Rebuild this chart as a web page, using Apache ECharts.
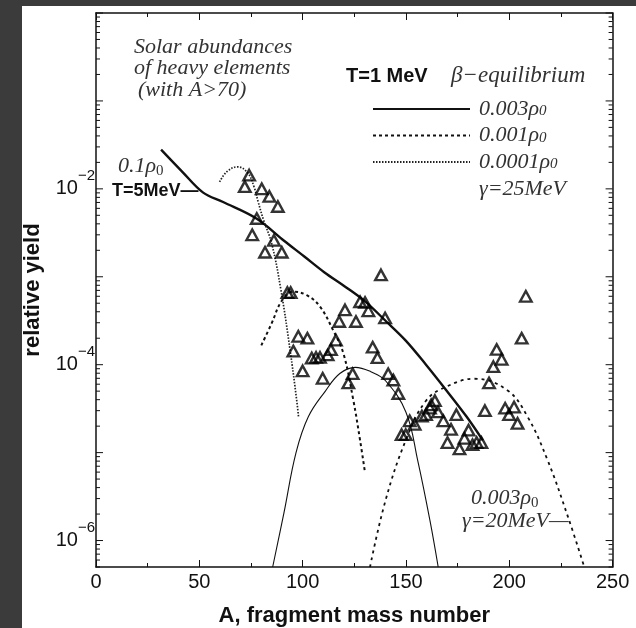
<!DOCTYPE html>
<html>
<head>
<meta charset="utf-8">
<script src="https://cdn.jsdelivr.net/npm/echarts@6/dist/echarts.min.js"></script>
<style>
  html, body { margin: 0; padding: 0; background: #3b3b3b; }
  #paper { position: absolute; left: 22px; top: 6px; width: 614px; height: 622px; background: #ffffff; }
  #chart { position: absolute; left: 0; top: 0; width: 636px; height: 628px; }
</style>
</head>
<body>
<div id="paper"></div>
<div id="chart"></div>
<script>
// Axis ranges
const X_MIN = 0, X_MAX = 250, X_STEP = 50;
const Y_MIN = 5e-7, Y_MAX = 1;
const yLabelExps = [-2, -4, -6];

// Measured solar abundances of heavy elements (A > 70): mass number and relative yield
const massA = [
  74.1, 72.0, 80.2, 83.9, 88.0, 77.8, 75.6, 86.1, 81.8, 89.9, 92.6, 94.2,
  127.8, 130.2, 131.8, 139.9, 137.9, 120.5, 117.7, 125.8, 97.9, 102.3, 116.1, 113.7,
  95.5, 133.9, 136.2, 104.4, 106.5, 108.4, 112.1, 100.0, 109.7, 124.2, 122.1, 141.4,
  143.9, 146.3,
  208.0, 206.0, 193.9, 196.3, 192.3, 190.2, 188.2, 198.0, 202.3, 199.9, 204.0,
  147.9, 149.9, 151.8, 154.2, 157.7, 159.7, 161.6, 162.2, 164.0, 165.5, 168.1, 174.4,
  171.8, 170.1, 175.9, 178.3, 180.3, 182.2, 184.2, 186.5
];
const relYield = [
  0.0143, 0.0106, 0.0100, 0.0082, 0.0063, 0.0046, 0.0030, 0.0026, 0.0019, 0.0019, 6.6e-4, 6.6e-4,
  5.2e-4, 5.1e-4, 4.1e-4, 3.4e-4, 1.05e-3, 4.2e-4, 3.1e-4, 3.1e-4, 2.1e-4, 2.0e-4, 1.9e-4, 1.48e-4,
  1.43e-4, 1.58e-4, 1.2e-4, 1.19e-4, 1.21e-4, 1.21e-4, 1.29e-4, 8.5e-5, 7.0e-5, 7.9e-5, 6.2e-5, 7.9e-5,
  6.7e-5, 4.7e-5,
  6.0e-4, 2.0e-4, 1.49e-4, 1.15e-4, 9.5e-5, 6.2e-5, 3.0e-5, 3.2e-5, 3.3e-5, 2.7e-5, 2.15e-5,
  1.6e-5, 1.6e-5, 2.3e-5, 2.1e-5, 2.6e-5, 2.7e-5, 3.2e-5, 3.5e-5, 3.9e-5, 2.9e-5, 2.3e-5, 2.7e-5,
  1.84e-5, 1.3e-5, 1.1e-5, 1.45e-5, 1.8e-5, 1.23e-5, 1.3e-5, 1.3e-5
];

// 0.1 rho0, T = 5 MeV
const hotA = [31.5, 41.9, 51.7, 61.5, 77.8, 91.0, 100.8, 110.6, 120.4, 130.2, 140.1, 149.9, 159.7, 169.5, 179.3, 187.2];
const hotY = [0.0279, 0.0155, 0.00912, 0.00708, 0.00457, 0.00257, 0.00170, 0.00112, 7.76e-4, 5.25e-4, 3.16e-4, 1.88e-4, 1.0e-4, 5.13e-5, 2.57e-5, 1.38e-5];

// T = 1 MeV, beta-equilibrium, gamma = 25 MeV
const rho003A = [85.5, 91.0, 96.8, 102.8, 111.0, 118.0, 125.5, 133.0, 140.0, 150.0, 155.7, 161.6, 165.6];
const rho003Y = [5e-7, 2.09e-6, 1.0e-5, 2.57e-5, 5.01e-5, 7.94e-5, 9.33e-5, 8.32e-5, 6.61e-5, 2.88e-5, 8.13e-6, 1.70e-6, 5e-7];

const rho001A = [80.0, 85.0, 90.0, 95.5, 102.0, 108.4, 114.8, 119.7, 124.5, 127.8, 130.2];
const rho001Y = [1.66e-4, 2.95e-4, 5.37e-4, 6.76e-4, 6.17e-4, 4.57e-4, 2.45e-4, 1.35e-4, 3.98e-5, 1.38e-5, 5.89e-6];

const rho0001A = [59.8, 63.5, 68.5, 73.5, 76.5, 78.5, 81.0, 85.0, 89.5, 93.9, 97.1, 98.0];
const rho0001Y = [0.0120, 0.0158, 0.0178, 0.0151, 0.0105, 0.00708, 0.00447, 0.00240, 7.08e-4, 1.48e-4, 3.98e-5, 2.57e-5];

// 0.003 rho0, gamma = 20 MeV
const g20A = [132.6, 140.1, 149.9, 159.7, 169.5, 183.2, 199.0, 208.8, 218.6, 228.4, 236.3];
const g20Y = [5e-7, 2.85e-6, 1.38e-5, 3.89e-5, 5.62e-5, 6.92e-5, 5.13e-5, 2.57e-5, 8.13e-6, 1.86e-6, 5e-7];

const INK = '#111111';
const SOFT = '#333333';
const SANS = '"Liberation Sans", Arial, sans-serif';
const SERIF = '"Liberation Serif", "Times New Roman", serif';

const zip = (xs, ys) => xs.map((x, i) => [x, ys[i]]);

// decade and sub-decade tick positions on the log axis
const yTicks = [];
for (let e = -7; e <= 0; e++) {
  for (let k = 1; k <= 9; k++) {
    const v = k * Math.pow(10, e);
    if (v >= Y_MIN && v <= Y_MAX) yTicks.push([X_MIN, v, k === 1 ? 1 : 0]);
  }
}

const lineBase = {
  type: 'line', showSymbol: false, symbol: 'none', smooth: 0.4, silent: true, z: 3,
  itemStyle: { color: INK }
};

const serifSub = { fontFamily: SERIF, fontSize: 15, fill: SOFT, verticalAlign: 'bottom', padding: [10, 0, 0, 0] };

const option = {
  animation: false,
  backgroundColor: 'transparent',
  grid: { left: 96, right: 23.4, top: 13, bottom: 61, outerBoundsMode: 'none' },
  xAxis: [
    {
      type: 'value', min: X_MIN, max: X_MAX, interval: X_STEP, position: 'bottom',
      axisLine: { show: true, onZero: false, lineStyle: { color: INK, width: 1.5 } },
      axisTick: { show: true, inside: true, length: 7, lineStyle: { color: INK, width: 1 } },
      minorTick: { show: true, splitNumber: 2, length: 4, lineStyle: { color: INK, width: 1 } },
      splitLine: { show: false },
      axisLabel: { color: INK, fontFamily: SANS, fontSize: 20, margin: 5 },
      name: 'A, fragment mass number', nameLocation: 'middle', nameGap: 38,
      nameTextStyle: { color: INK, fontFamily: SANS, fontSize: 22, fontWeight: 'bold' }
    },
    {
      type: 'value', min: X_MIN, max: X_MAX, interval: X_STEP, position: 'top',
      axisLine: { show: true, onZero: false, lineStyle: { color: INK, width: 1.5 } },
      axisTick: { show: true, inside: true, length: 7, lineStyle: { color: INK, width: 1 } },
      minorTick: { show: true, splitNumber: 2, length: 4, lineStyle: { color: INK, width: 1 } },
      splitLine: { show: false },
      axisLabel: { show: false }
    }
  ],
  yAxis: [
    {
      type: 'log', logBase: 10, min: Y_MIN, max: Y_MAX, position: 'left',
      axisLine: { show: true, onZero: false, lineStyle: { color: INK, width: 1.5 } },
      axisTick: { show: false }, minorTick: { show: false }, splitLine: { show: false },
      axisLabel: {
        margin: 1,
        formatter: function (v) {
          const lg = Math.log10(v);
          const e = Math.round(lg);
          if (Math.abs(lg - e) > 1e-6 || yLabelExps.indexOf(e) < 0) return '';
          return '{b|10}{s|\u2212' + (-e) + '}';
        },
        rich: {
          b: { fontFamily: SANS, fontSize: 20, color: INK, lineHeight: 40, verticalAlign: 'middle' },
          s: { fontFamily: SANS, fontSize: 15, color: INK, lineHeight: 14, verticalAlign: 'top' }
        }
      },
      name: 'relative yield', nameLocation: 'middle', nameGap: 52, nameRotate: 90,
      nameTextStyle: { color: INK, fontFamily: SANS, fontSize: 22, fontWeight: 'bold' }
    },
    {
      type: 'log', logBase: 10, min: Y_MIN, max: Y_MAX, position: 'right',
      axisLine: { show: true, onZero: false, lineStyle: { color: INK, width: 1.5 } },
      axisTick: { show: false }, minorTick: { show: false }, splitLine: { show: false },
      axisLabel: { show: false }
    }
  ],
  legend: {
    data: ['0.003ρ0', '0.001ρ0', '0.0001ρ0'],
    orient: 'vertical', left: 367, top: 89,
    itemWidth: 97, itemHeight: 14, itemGap: 0.5,
    selectedMode: false,
    itemStyle: { opacity: 0 },
    formatter: function (n) { return n.slice(0, -1) + '{s|0}'; },
    textStyle: {
      fontFamily: SERIF, fontStyle: 'italic', fontSize: 22, color: SOFT,
      padding: [0, 0, 0, 4], lineHeight: 20,
      rich: { s: { fontFamily: SERIF, fontSize: 15, color: SOFT, lineHeight: 20, verticalAlign: 'bottom', padding: [10, 0, 0, 0] } }
    }
  },
  graphic: {
    elements: [
      { type: 'text', x: 134, y: 47, silent: true, style: { text: 'Solar abundances', fill: SOFT, fontFamily: SERIF, fontStyle: 'italic', fontSize: 22, verticalAlign: 'middle' } },
      { type: 'text', x: 134, y: 68, silent: true, style: { text: 'of heavy elements', fill: SOFT, fontFamily: SERIF, fontStyle: 'italic', fontSize: 22, verticalAlign: 'middle' } },
      { type: 'text', x: 138, y: 90, silent: true, style: { text: '(with A>70)', fill: SOFT, fontFamily: SERIF, fontStyle: 'italic', fontSize: 22, verticalAlign: 'middle' } },
      { type: 'text', x: 346, y: 76, silent: true, style: { text: 'T=1 MeV', fill: INK, fontFamily: SANS, fontWeight: 'bold', fontSize: 20, verticalAlign: 'middle' } },
      { type: 'text', x: 451, y: 76, silent: true, style: { text: 'β\u2212equilibrium', fill: SOFT, fontFamily: SERIF, fontStyle: 'italic', fontSize: 23, verticalAlign: 'middle' } },
      { type: 'text', x: 479, y: 189, silent: true, style: { text: 'γ=25MeV', fill: SOFT, fontFamily: SERIF, fontStyle: 'italic', fontSize: 22, verticalAlign: 'middle' } },
      { type: 'text', x: 118, y: 166, silent: true, style: { text: '0.1ρ{s|0}', fill: SOFT, fontFamily: SERIF, fontStyle: 'italic', fontSize: 22, verticalAlign: 'middle', rich: { s: serifSub } } },
      { type: 'text', x: 112, y: 191, silent: true, style: { text: 'T=5MeV\u2014', fill: INK, fontFamily: SANS, fontWeight: 'bold', fontSize: 18, verticalAlign: 'middle' } },
      { type: 'text', x: 471, y: 498, silent: true, style: { text: '0.003ρ{s|0}', fill: SOFT, fontFamily: SERIF, fontStyle: 'italic', fontSize: 22, verticalAlign: 'middle', rich: { s: serifSub } } },
      { type: 'text', x: 462, y: 521, silent: true, style: { text: 'γ=20MeV\u2014', fill: SOFT, fontFamily: SERIF, fontStyle: 'italic', fontSize: 22, verticalAlign: 'middle' } }
    ]
  },
  series: [
    {
      type: 'custom', name: 'yticks', silent: true, clip: false, z: 6,
      data: yTicks,
      renderItem: function (params, api) {
        const v = api.value(1);
        const len = api.value(2) ? 7 : 4;
        const pL = api.coord([X_MIN, v]);
        const pR = api.coord([X_MAX, v]);
        return {
          type: 'group',
          children: [
            { type: 'line', shape: { x1: pL[0], y1: pL[1], x2: pL[0] + len, y2: pL[1] }, style: { stroke: INK, lineWidth: 1 } },
            { type: 'line', shape: { x1: pR[0], y1: pR[1], x2: pR[0] - len, y2: pR[1] }, style: { stroke: INK, lineWidth: 1 } }
          ]
        };
      }
    },
    Object.assign({}, lineBase, { name: '0.1ρ0 T=5MeV', smooth: 0.35, data: zip(hotA, hotY), lineStyle: { color: INK, width: 2.4 } }),
    Object.assign({}, lineBase, { name: '0.003ρ0', data: zip(rho003A, rho003Y), lineStyle: { color: INK, width: 1.1 } }),
    Object.assign({}, lineBase, { name: '0.001ρ0', data: zip(rho001A, rho001Y), lineStyle: { color: INK, width: 2, type: [3, 3] } }),
    Object.assign({}, lineBase, { name: '0.0001ρ0', data: zip(rho0001A, rho0001Y), lineStyle: { color: '#222', width: 1.7, type: [1.5, 1.5] } }),
    Object.assign({}, lineBase, { name: '0.003ρ0 γ=20MeV', data: zip(g20A, g20Y), lineStyle: { color: INK, width: 1.8, type: [3, 4] } }),
    {
      type: 'scatter', name: 'solar', silent: true, z: 5,
      data: zip(massA, relYield),
      symbol: 'triangle', symbolSize: [11.5, 10.5],
      itemStyle: { color: 'rgba(0,0,0,0)', borderColor: '#000', borderWidth: 2.4 }
    }
  ]
};

const chart = echarts.init(document.getElementById('chart'), null, { renderer: 'canvas' });
chart.setOption(option);
</script>
</body>
</html>
